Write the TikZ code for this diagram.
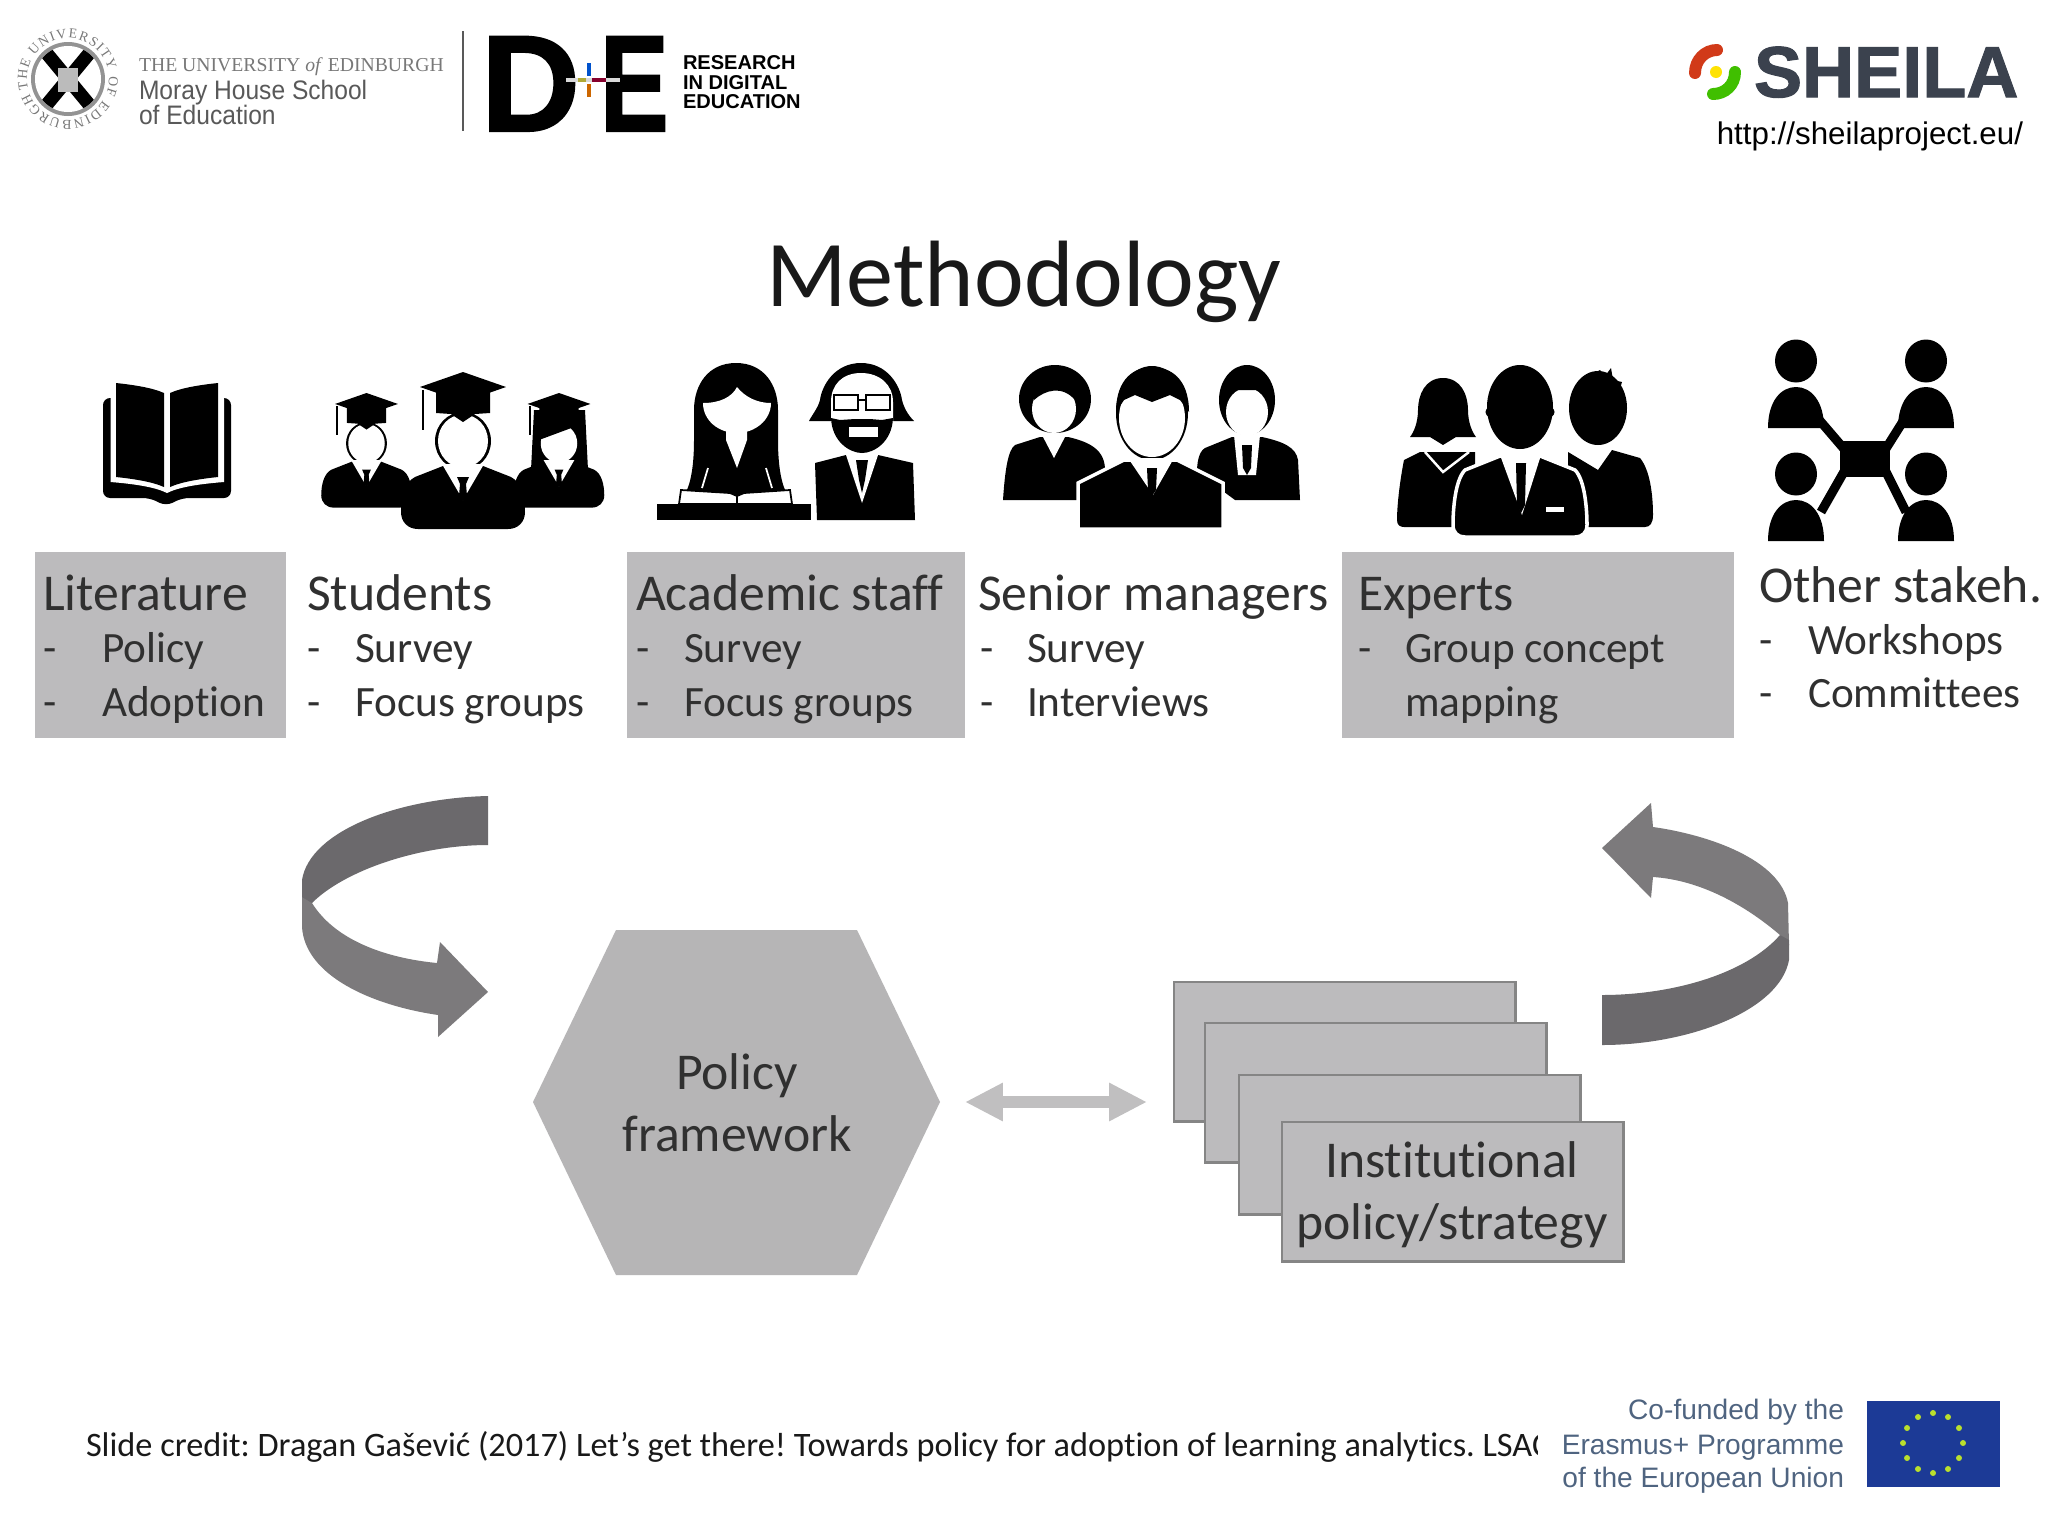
\documentclass[tikz,border=0pt]{standalone}
\usepackage{fontspec}
\setmainfont[Ligatures=CommonOff]{Carlito}
\newfontfamily\arialfont{Liberation Sans}
\newfontfamily\timesfont{Liberation Serif}
\newfontfamily\heavyfont[BoldFeatures={FakeBold=1.5}]{Liberation Sans}
\usepackage{xcolor}
\usepackage{tikz}
\usetikzlibrary{arrows.meta,decorations.text}
\frenchspacing

\definecolor{boxgray}{RGB}{188,187,189}
\definecolor{hexgray}{RGB}{182,181,182}
\definecolor{edgegray}{RGB}{133,133,133}
\definecolor{arrowgray}{RGB}{192,191,192}
\definecolor{banddark}{RGB}{107,105,108}
\definecolor{bandlight}{RGB}{124,122,124}
\definecolor{inkgray}{RGB}{48,48,48}
\definecolor{crestgray}{RGB}{120,120,120}
\definecolor{sheilaink}{RGB}{59,66,78}
\definecolor{erasmusink}{RGB}{79,100,128}
\definecolor{eublue}{RGB}{28,58,150}

\tikzset{
  txt/.style={inner sep=0pt, outer sep=0pt},
  colhead/.style={txt, anchor=base west, text=inkgray, font=\fontsize{14.7}{17}\selectfont},
  colitem/.style={txt, anchor=base west, text=inkgray, font=\fontsize{12.3}{14}\selectfont},
  greybox/.style={fill=boxgray, inner sep=0pt, anchor=north west},
  stackpage/.style={draw=edgegray, line width=0.7pt, fill=boxgray, inner sep=0pt, anchor=north west,
    minimum width=3.41cm, minimum height=1.39cm},
  bigtext/.style={txt, align=center, text=inkgray, font=\fontsize{14.7}{17.6}\selectfont},
  bold edge/.style={draw=white, line width=1pt},
}

% graduate: cap, face, gown; #1,#2 top of the cap, #3 size
\newcommand{\gradperson}[3]{
  \begin{scope}[shift={(#1,#2)},scale=#3]
    \fill (-20,94) -- (-48,105) .. controls (-58,110) and (-62,125) .. (-62,140) .. controls (-62,150) and (-55,157) .. (-45,157) -- (45,157) .. controls (55,157) and (62,150) .. (62,140) .. controls (62,125) and (58,110) .. (48,105) -- (20,94) -- cycle;
    \fill (0,69) ellipse [x radius=28, y radius=29];
    \fill[white] (0,69) ellipse [x radius=25, y radius=26.5];
    \fill (-27,14) -- (27,14) -- (27,41) -- (12,42) -- (0,50) -- (-12,42) -- (-27,41) -- cycle;
    \fill (0,0) -- (43,15) -- (0,30) -- (-43,15) -- cycle;
    \draw[line width=0.6pt] (-40,18) -- (-40,58);
    \fill[white] (-21,92) -- (21,92) -- (0,128) -- cycle;
    \fill (-6,105) -- (6,105) -- (3,112) -- (4,124) -- (0,129) -- (-4,124) -- (-3,112) -- cycle;
  \end{scope}
}
% one person of the network icon
\newcommand{\netperson}[2]{
  \begin{scope}[shift={(#1,#2)}]
    \fill (0,0) ellipse [x radius=21, y radius=21.5];
    \fill (-28,67) .. controls (-28,40) and (-15,26) .. (0,26) .. controls (15,26) and (28,40) .. (28,67) -- cycle;
  \end{scope}
}

\begin{document}
\begin{tikzpicture}[x=0.01cm, y=-0.01cm, >=Stealth]
  \useasboundingbox (0,0) rectangle (2048,1536);
  \fill[white] (0,0) rectangle (2048,1536);

  % Edinburgh crest and name
  \fill[crestgray!80] (68,79) circle [radius=37];
  \fill[white] (68,79) circle [radius=33];
  \begin{scope}
    \clip (68,79) circle [radius=33];
    \draw[line width=3.8pt] (44,50) -- (92,108);
    \draw[line width=3.8pt] (92,50) -- (44,108);
  \end{scope}
  \fill[crestgray!50] (58,68) rectangle (78,92);
  \path[decorate, decoration={text along path, text align={fit to path},
    text={|\fontsize{3.9}{5}\selectfont\timesfont\color{crestgray}|THE UNIVERSITY OF EDINBURGH}}]
    (68,79) ++(165:41) arc [start angle=165, end angle=520, radius=41];
  \node (uoe) [txt, anchor=base west, text=crestgray, font=\timesfont\fontsize{5.6}{7}\selectfont] at (139,71) {THE UNIVERSITY \textit{of} EDINBURGH};
  \node (moray) [txt, anchor=base west, xscale=0.92, transform shape, text=black!65, font=\arialfont\fontsize{7.6}{8}\selectfont] at (139,99) {Moray House School};
  \node (ofedu) [txt, anchor=base west, xscale=0.92, transform shape, text=black!65, font=\arialfont\fontsize{7.6}{8}\selectfont] at (139,124) {of Education};
  \draw[black!65, line width=0.6pt] (463,31) -- (463,131);

  % D+E logo
  \node (dletter) [txt, anchor=base west, font=\heavyfont\bfseries\fontsize{39}{39}\selectfont] at (481,131) {D};
  \node (eletter) [txt, anchor=base west, xscale=0.75, transform shape, font=\heavyfont\bfseries\fontsize{39}{39}\selectfont] at (600,131) {E};
  \draw[black!15, line width=1.1pt] (566,80) -- (620,80);
  \draw[olive!70, line width=1.1pt] (578,80) -- (586,80);
  \draw[purple!70!black, line width=1.1pt] (592,80) -- (606,80);
  \draw[blue!60!cyan!80!black, line width=1pt] (589,63) -- (589,76);
  \draw[orange!80!black, line width=1pt] (589,84) -- (589,97);
  \node (rde1) [txt, anchor=base west, font=\arialfont\bfseries\fontsize{5.7}{6}\selectfont] at (683,69) {RESEARCH};
  \node (rde2) [txt, anchor=base west, font=\arialfont\bfseries\fontsize{5.7}{6}\selectfont] at (683,89) {IN DIGITAL};
  \node (rde3) [txt, anchor=base west, font=\arialfont\bfseries\fontsize{5.7}{6}\selectfont] at (683,108) {EDUCATION};

  % SHEILA logo
  \draw[red!65!orange!80!black!90, line width=3.4pt, line cap=round] (1717,50) .. controls (1705,50) and (1695,60) .. (1695,73);
  \draw[green!50!olive, line width=3.4pt, line cap=round] (1735,72) .. controls (1735,85) and (1725,94) .. (1713,94);
  \fill[yellow!85!orange] (1716,72) circle [radius=6];
  \node (sheila) [txt, anchor=base west, text=sheilaink, font=\heavyfont\bfseries\fontsize{20.5}{21}\selectfont] at (1754,97) {SHEILA};
  \node (sheilaurl) [txt, anchor=base east, font=\arialfont\fontsize{8.9}{10}\selectfont] at (2023,144) {http://sheilaproject.eu/};

  % title
  \node (title) [txt, anchor=base, text=black!90, font=\fontsize{26.8}{30}\selectfont] at (1024,306) {Methodology};

  % book
  \fill[rounded corners=2pt] (103,398) -- (103,498) -- (150,498) -- (166,506) -- (182,498) -- (231,498) -- (231,398) -- cycle;
  \fill[white] (110.5,390) -- (110.5,482) .. controls (135,484) and (155,487) .. (167,493) .. controls (179,487) and (199,484) .. (224,482) -- (224,390) -- cycle;
  \fill (116,383) .. controls (135,385) and (153,388) .. (164,393) -- (164,487) .. controls (153,482) and (135,479) .. (116,477) -- cycle;
  \fill (218,383) .. controls (199,385) and (181,388) .. (170,393) -- (170,487) .. controls (181,482) and (199,479) .. (218,477) -- cycle;

  % students
  \fill (534,410) -- (585,410) -- (588,470) -- (531,470) -- cycle;
  \gradperson{366.5}{393}{0.73}
  \gradperson{559}{393}{0.73}
  \fill (539,440) -- (574,427) -- (574,418) -- (539,418) -- cycle;
  \gradperson{463}{372}{1}

  % academic staff
  \fill (736,363) .. controls (708,363) and (694,385) .. (694,410) -- (694,440) .. controls (694,460) and (692,480) .. (686,492) -- (680,504) -- (792,504) -- (786,492) .. controls (780,480) and (778,460) .. (778,440) -- (778,410) .. controls (778,385) and (764,363) .. (736,363) -- cycle;
  \fill[white] (703,403) .. controls (720,403) and (732,397) .. (737,387) .. controls (745,397) and (757,403) .. (771,403) .. controls (771,420) and (755,433) .. (737,433) .. controls (718,433) and (703,420) .. (703,403) -- cycle;
  \fill[white] (726,430) -- (747,430) -- (747,440) -- (737,468) -- (726,440) -- cycle;
  \draw[white, line width=0.5pt] (708,468) -- (702,488);
  \draw[white, line width=0.5pt] (766,468) -- (772,488);
  \filldraw[fill=white, draw=black, line width=0.5pt] (681,490) -- (730,493) -- (737,496) -- (744,493) -- (790,490) -- (792,504) -- (679,504) -- cycle;
  \draw[line width=0.5pt] (737,496) -- (737,504);
  \fill (657,504) rectangle (811,520);
  \fill (861,363) .. controls (835,363) and (822,385) .. (820,400) .. controls (818,408) and (812,415) .. (809,421) -- (914,421) .. controls (908,415) and (904,408) .. (902,400) .. controls (900,385) and (887,363) .. (861,363) -- cycle;
  \fill[white] (861,373) .. controls (842,373) and (831,385) .. (831,402) -- (831,425) -- (893,425) -- (893,402) .. controls (893,385) and (880,373) .. (861,373) -- cycle;
  \fill (831,418) .. controls (832,442) and (850,453) .. (862,453) .. controls (874,453) and (892,442) .. (893,418) -- (882,420) -- (870,419) -- (855,419) -- (840,420) -- cycle;
  \fill[white] (849,427) rectangle (878,437);
  \draw[fill=white, line width=0.7pt] (834,395) rectangle (858,410);
  \draw[fill=white, line width=0.7pt] (866,395) rectangle (890,410);
  \draw[line width=0.7pt] (858,400) -- (866,400);
  \fill (815,463) -- (846,455) -- (878,455) -- (913,463) -- (915,520) -- (817,520) -- cycle;
  \fill[white] (846,455) -- (878,455) -- (862,503) -- cycle;
  \fill (856,460) -- (868,460) -- (865,480) -- (862,493) -- (859,480) -- cycle;

  % senior managers
  \fill (1055,399) ellipse [x radius=36, y radius=34];
  \fill[white] (1054,409) ellipse [x radius=22, y radius=24];
  \fill (1034,400) .. controls (1045,390) and (1062,385) .. (1075,400) -- (1075,385) -- (1034,385) -- cycle;
  \fill (1040,437) -- (1015,445) .. controls (1008,450) and (1005,470) .. (1003,500) -- (1090,500) -- (1105,470) .. controls (1105,450) and (1090,442) .. (1068,437) -- cycle;
  \fill[white] (1042,435) -- (1066,435) -- (1054,458) -- cycle;
  \fill (1247,400) ellipse [x radius=28, y radius=35];
  \fill[white] (1247,412) ellipse [x radius=21, y radius=24];
  \fill (1226,400) -- (1236,390) -- (1258,390) -- (1269,400) -- (1269,380) -- (1226,380) -- cycle;
  \fill (1232,437) -- (1205,448) .. controls (1198,452) and (1197,465) .. (1197,472) -- (1235,500) -- (1300,500) -- (1298,460) .. controls (1296,448) and (1285,442) .. (1262,437) -- cycle;
  \fill[white] (1234,435) -- (1260,435) -- (1256,475) -- (1238,475) -- cycle;
  \fill (1242,445) -- (1252,445) -- (1251,468) -- (1247,475) -- (1243,468) -- cycle;
  \fill (1152,413) ellipse [x radius=36, y radius=47];
  \fill[white] (1152,418) ellipse [x radius=33, y radius=39];
  \fill (1116,412) .. controls (1116,378) and (1135,367) .. (1152,367) .. controls (1170,367) and (1189,378) .. (1189,412) -- (1180,400) -- (1170,395) -- (1152,402) -- (1135,395) -- (1124,400) -- cycle;
  \filldraw[bold edge, fill=black] (1078,483) -- (1124,460) -- (1177,460) -- (1223,483) -- (1223,529) -- (1078,529) -- cycle;
  \fill[white] (1128,458) -- (1174,458) -- (1153,495) -- cycle;
  \fill (1147,468) -- (1157,468) -- (1156,490) -- (1152,496) -- (1148,490) -- cycle;

  % experts
  \fill (1443,378) .. controls (1425,378) and (1418,395) .. (1418,410) .. controls (1418,422) and (1414,432) .. (1410,437) -- (1430,437) -- (1443,445) -- (1456,437) -- (1476,437) .. controls (1472,432) and (1468,422) .. (1468,410) .. controls (1468,395) and (1461,378) .. (1443,378) -- cycle;
  \fill (1420,452) -- (1404,460) .. controls (1400,480) and (1397,505) .. (1397,520) .. controls (1397,525) and (1400,527) .. (1404,527) -- (1475,527) -- (1475,452) -- cycle;
  \draw[white, line width=0.7pt] (1425,452) -- (1443,472) -- (1469,452);
  \fill (1598,408) ellipse [x radius=29, y radius=37];
  \fill (1590,375) -- (1600,370) -- (1605,376) -- (1611,368) -- (1613,380) -- (1622,382) -- (1618,395) -- cycle;
  \fill (1568,452) -- (1598,470) -- (1612,450) -- (1640,458) .. controls (1650,470) and (1653,495) .. (1653,515) .. controls (1653,523) and (1650,527) .. (1645,527) -- (1575,527) -- (1568,500) -- cycle;
  \fill (1520,407) ellipse [x radius=33, y radius=42];
  \fill (1520,412) ellipse [x radius=34.5, y radius=12];
  \filldraw[bold edge, fill=black] (1500,456) -- (1465,470) .. controls (1455,480) and (1453,510) .. (1453,525) .. controls (1453,533) and (1458,537) .. (1465,537) -- (1575,537) .. controls (1582,537) and (1587,533) .. (1587,525) .. controls (1587,510) and (1585,480) .. (1575,470) -- (1540,456) -- cycle;
  \fill[white] (1500,455) -- (1541,455) -- (1522,515) -- cycle;
  \fill (1516,463) -- (1526,463) -- (1525,505) -- (1521,513) -- (1517,505) -- cycle;
  \fill[white] (1546,507) rectangle (1564,512);

  % network of people
  \draw[line width=2.6pt] (1815,415) -- (1845,450);
  \draw[line width=2.6pt] (1907,415) -- (1885,450);
  \draw[line width=2.6pt] (1845,470) -- (1821,512);
  \draw[line width=2.6pt] (1885,470) -- (1906,512);
  \fill (1840,441) rectangle (1890,477);
  \netperson{1796}{361}
  \netperson{1926}{361}
  \netperson{1796}{474}
  \netperson{1926}{474}

  % columns
  \node (litbox) [greybox, minimum width=2.51cm, minimum height=1.86cm] at (34,551) {};
  \node (acabox) [greybox, minimum width=3.38cm, minimum height=1.86cm] at (626,551) {};
  \node (expbox) [greybox, minimum width=3.92cm, minimum height=1.86cm] at (1341,551) {};

  \node (lit) [colhead] at (43,610) {Literature};
  \node (litda) [colitem] at (43,662) {-};
  \node (lita) [colitem] at (102,662) {Policy};
  \node (litdb) [colitem] at (43,716) {-};
  \node (litb) [colitem] at (102,716) {Adoption};

  \node (stu) [colhead] at (307,610) {Students};
  \node (studa) [colitem] at (307,662) {-};
  \node (stua) [colitem] at (355,662) {Survey};
  \node (studb) [colitem] at (307,716) {-};
  \node (stub) [colitem] at (355,716) {Focus groups};

  \node (aca) [colhead] at (636,610) {Academic staff};
  \node (acada) [colitem] at (636,662) {-};
  \node (acaa) [colitem] at (684,662) {Survey};
  \node (acadb) [colitem] at (636,716) {-};
  \node (acab) [colitem] at (684,716) {Focus groups};

  \node (sen) [colhead] at (978,610) {Senior managers};
  \node (senda) [colitem] at (980,662) {-};
  \node (sena) [colitem] at (1027,662) {Survey};
  \node (sendb) [colitem] at (980,716) {-};
  \node (senb) [colitem] at (1027,716) {Interviews};

  \node (exp) [colhead] at (1358,610) {Experts};
  \node (expda) [colitem] at (1358,662) {-};
  \node (expa) [colitem] at (1405,662) {Group concept};
  \node (expb) [colitem] at (1405,716) {mapping};

  \node (oth) [colhead] at (1759,602) {Other stakeh.};
  \node (othda) [colitem] at (1759,654) {-};
  \node (otha) [colitem] at (1808,654) {Workshops};
  \node (othdb) [colitem] at (1759,707) {-};
  \node (othb) [colitem] at (1808,707) {Committees};

  % curved arrow, left
  \fill[bandlight] (302,880) -- (302,927) .. controls (305,975) and (370,1005) .. (438,1015) -- (438,1037) -- (488,992) -- (440,942) -- (437,963) .. controls (385,958) and (335,940) .. (312,903) -- cycle;
  \fill[banddark] (488,796) .. controls (400,798) and (310,830) .. (302,880) -- (302,897) -- (312,903) .. controls (345,870) and (420,845) .. (488,845) -- cycle;

  % curved arrow, right
  \fill[bandlight] (1602,848) -- (1651,803) -- (1653,827) .. controls (1710,835) and (1780,860) .. (1788,903) -- (1789,945) -- (1780,935) .. controls (1745,905) and (1700,880) .. (1653,877) -- (1651,898) -- cycle;
  \fill[banddark] (1602,995) .. controls (1670,995) and (1745,975) .. (1780,935) -- (1789,940) -- (1789,960) .. controls (1780,1010) and (1690,1045) .. (1602,1045) -- cycle;

  % policy framework
  \fill[hexgray] (533,1102) -- (616,930) -- (857,930) -- (940,1102) -- (857,1275) -- (616,1275) -- cycle;
  \node (frame) [bigtext] at (737,1103) {Policy\\framework};

  % institutional documents
  \node (pagea) [stackpage] at (1173,981) {};
  \node (pageb) [stackpage] at (1204,1022) {};
  \node (pagec) [stackpage] at (1238,1074) {};
  \node (paged) [stackpage] at (1281,1121) {};
  \node (pagetext) [bigtext] at (1452,1195) {Institutional\\policy/strategy};

  \coordinate (linkleft) at (965,1102);
  \coordinate (linkright) at (1147,1102);
  \draw[{Triangle[width=10.2pt,length=10.8pt]}-{Triangle[width=10.2pt,length=10.8pt]}, arrowgray, line width=3.4pt] (linkleft) -- (linkright);

  % credit, cut off by the funder block
  \node (credit) [txt, anchor=base west, text=black!90, font=\fontsize{9.75}{11}\selectfont] at (86,1456) {Slide credit: Dragan Gašević (2017) Let’s get there! Towards policy for adoption of learning analytics. LSAC};
  \fill[white] (1538,1380) rectangle (2048,1520);

  \node (fund1) [txt, anchor=base east, text=erasmusink, font=\arialfont\fontsize{8}{9}\selectfont] at (1844,1419) {Co-funded by the};
  \node (fund2) [txt, anchor=base east, text=erasmusink, font=\arialfont\fontsize{8}{9}\selectfont] at (1844,1454) {Erasmus+ Programme};
  \node (fund3) [txt, anchor=base east, text=erasmusink, font=\arialfont\fontsize{8}{9}\selectfont] at (1844,1487) {of the European Union};
  \fill[eublue] (1867,1401) rectangle (2000,1487);
  \foreach \a in {0,30,...,330}
    \fill[yellow!70!green!90] (1933,1443) ++(\a:30) circle [radius=3];
\end{tikzpicture}
\end{document}
